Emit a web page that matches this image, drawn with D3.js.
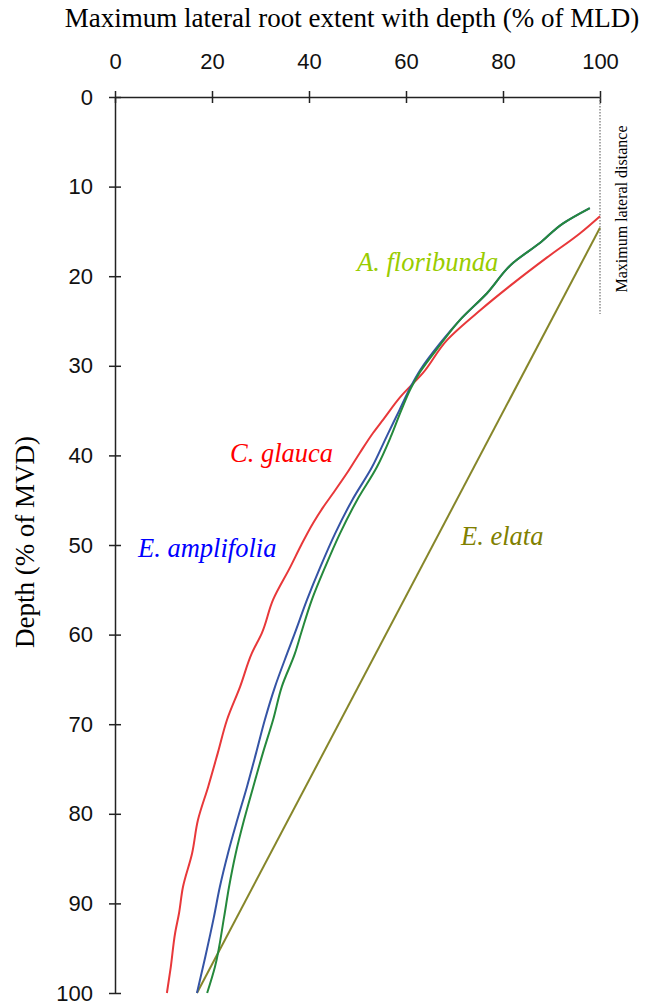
<!DOCTYPE html>
<html>
<head>
<meta charset="utf-8">
<script src="https://cdn.jsdelivr.net/npm/d3@7"></script>
<style>
  body { margin: 0; background: #fff; }
</style>
</head>
<body>
<div id="container"></div>
<script>
// x = lateral extent (% of MLD), depth = % of MVD
const glaucaX = [100, 95.9, 89.1, 82.1, 75.3, 68.5, 63.5, 58.8, 55.3, 53.2, 50.5, 47.8, 45.0, 42.9, 40.8, 38.4, 36.1, 32.6, 30.3, 28.2, 25.8, 23.1, 21.2, 19.2, 17.1, 15.9, 14.0, 13.2, 12.4, 11.5, 10.7];
const glaucaD = [13.3, 15.2, 17.9, 20.8, 23.8, 27.1, 30.8, 33.5, 36.0, 37.5, 39.7, 42.0, 44.2, 45.8, 47.6, 50.0, 52.5, 56.1, 59.8, 62.1, 65.8, 69.5, 73.2, 77.0, 80.7, 84.4, 88.2, 91.1, 93.3, 97.1, 100];

const amplifoliaX = [97.9, 92.4, 87.6, 82.1, 76.7, 71.1, 67.0, 62.9, 61.0, 58.6, 56.0, 53.0, 48.9, 45.4, 42.3, 39.6, 37.1, 35.5, 33.0, 30.9, 29.1, 27.2, 25.2, 23.3, 21.6, 20.4, 18.6, 16.9];
const amplifoliaD = [12.4, 14.1, 16.3, 18.5, 21.9, 24.9, 27.5, 30.5, 32.3, 35.0, 37.9, 41.3, 45.0, 48.7, 52.5, 56.1, 59.8, 62.1, 65.8, 69.5, 73.2, 77.0, 80.7, 84.4, 88.2, 91.5, 96.0, 100];

const floribundaX = [97.9, 92.4, 87.6, 82.1, 76.7, 71.1, 67.0, 62.9, 61.0, 59.0, 56.8, 54.0, 49.9, 46.4, 43.3, 40.6, 38.4, 37.1, 34.4, 32.6, 30.5, 28.5, 26.6, 24.9, 23.5, 22.5, 20.6, 19.0];
const floribundaD = [12.4, 14.1, 16.3, 18.5, 21.9, 24.9, 27.7, 30.7, 32.5, 35.0, 38.0, 41.3, 45.0, 48.7, 52.5, 56.1, 59.8, 62.1, 65.8, 69.5, 73.2, 77.0, 80.7, 84.4, 88.2, 91.5, 97.1, 100];

const elataX = [100, 16.9];
const elataD = [14.6, 100];

const xTicks = [0, 20, 40, 60, 80, 100];
const yTicks = [0, 10, 20, 30, 40, 50, 60, 70, 80, 90, 100];

const w = 648, h = 1006;
const padL = 115, padR = 600, padT = 97, padB = 993;
const serif = "'Liberation Serif', 'Times New Roman', serif";

const svg = d3.select("#container").append("svg")
  .attr("width", w).attr("height", h);

const xScale = d3.scaleLinear().domain([0, 100]).range([padL, padR]);
const yScale = d3.scaleLinear().domain([0, 100]).range([padT, padB]);

// axes: ticks cross the line
const xAxis = d3.axisTop(xScale).tickValues(xTicks).tickSizeInner(6).tickSizeOuter(0).tickPadding(22);
const yAxis = d3.axisLeft(yScale).tickValues(yTicks).tickSizeInner(6).tickSizeOuter(0).tickPadding(16);

const gx = svg.append("g").attr("transform", "translate(0," + padT + ")").call(xAxis);
const gy = svg.append("g").attr("transform", "translate(" + padL + ",0)").call(yAxis);

[gx, gy].forEach(g => {
  g.select(".domain").attr("stroke", "#222").attr("stroke-width", 1.5);
  g.selectAll(".tick line").attr("stroke", "#222").attr("stroke-width", 1.5);
  g.selectAll(".tick text")
    .attr("fill", "#111")
    .style("font-family", "'Liberation Sans', Arial, sans-serif")
    .style("font-size", "22px");
});
gx.selectAll(".tick line").attr("y1", 6).attr("y2", -6);
gy.selectAll(".tick line").attr("x1", 6).attr("x2", -6);

// dotted reference line at max lateral distance
svg.append("line")
  .attr("x1", xScale(100)).attr("x2", xScale(100))
  .attr("y1", yScale(0)).attr("y2", 314)
  .attr("stroke", "#555").attr("stroke-width", 1)
  .attr("stroke-dasharray", "1.5,1.5");

svg.append("text")
  .attr("transform", "translate(627,209) rotate(-90)")
  .attr("text-anchor", "middle")
  .style("font-family", serif)
  .style("font-size", "16px")
  .text("Maximum lateral distance");

// titles
svg.append("text")
  .attr("x", 352).attr("y", 27)
  .attr("text-anchor", "middle")
  .style("font-family", serif)
  .style("font-size", "27px")
  .text("Maximum lateral root extent with depth (% of MLD)");

svg.append("text")
  .attr("transform", "translate(34,542) rotate(-90)")
  .attr("text-anchor", "middle")
  .style("font-family", serif)
  .style("font-size", "27px")
  .text("Depth (% of MVD)");

const line = d3.line()
  .curve(d3.curveMonotoneY)
  .x(d => xScale(d[0])).y(d => yScale(d[1]));

const series = [
  { x: elataX, d: elataD, color: "#86862a" },
  { x: glaucaX, d: glaucaD, color: "#e8383a" },
  { x: amplifoliaX, d: amplifoliaD, color: "#3554a5" },
  { x: floribundaX, d: floribundaD, color: "#25893c" }
];

series.forEach(s => {
  svg.append("path")
    .datum(s.x.map((v, i) => [v, s.d[i]]))
    .attr("d", line)
    .attr("fill", "none")
    .attr("stroke", s.color)
    .attr("stroke-width", 2);
});

const labels = [
  { text: "A. floribunda", x: 357, y: 271, color: "#99cc00" },
  { text: "C. glauca", x: 230, y: 462, color: "#ff0000" },
  { text: "E. amplifolia", x: 138, y: 557, color: "#0000ff" },
  { text: "E. elata", x: 461, y: 545, color: "#808000" }
];

svg.selectAll(".lbl").data(labels).enter().append("text")
  .attr("class", "lbl")
  .attr("x", d => d.x).attr("y", d => d.y)
  .attr("fill", d => d.color)
  .style("font-family", serif)
  .style("font-style", "italic")
  .style("font-size", "26.5px")
  .text(d => d.text);
</script>
</body>
</html>
